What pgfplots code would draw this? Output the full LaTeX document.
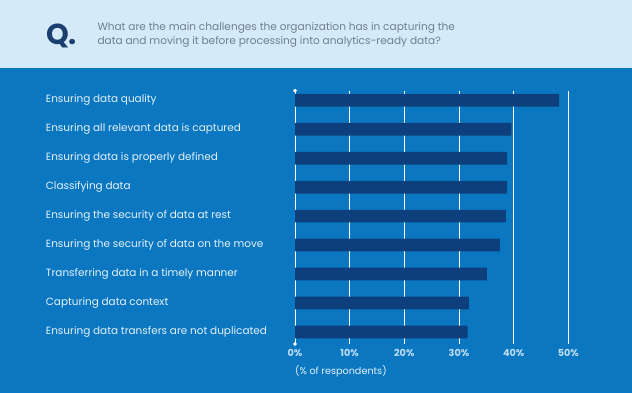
\documentclass[border=0pt]{standalone}
\usepackage{pgfplots}
\pgfplotsset{compat=1.18}
\usepackage{fontspec}
\setmainfont{Poppins}
\definecolor{bg}{HTML}{0A77C0}
\definecolor{bardark}{HTML}{0C3F7C}
\definecolor{band}{HTML}{D4EAF8}
\definecolor{qnavy}{HTML}{1B3F6F}
\definecolor{qtext}{HTML}{6E7F90}
\definecolor{lab}{HTML}{E6F2FB}
\definecolor{ticklab}{HTML}{BFDDF3}
\begin{document}
\begin{tikzpicture}[x=1bp,y=1bp]
\useasboundingbox (0,0) rectangle (632,393);
\fill[bg] (0,0) rectangle (632,393);
\fill[band] (0,325) rectangle (632,393);
\node[anchor=base west, inner sep=0, text=qnavy, font=\bfseries\fontsize{29}{29}\selectfont] at (46,348.5) {Q.};
\node[anchor=base west, inner sep=0, text=qtext, font=\fontsize{10.6}{10.6}\selectfont] at (97.3,362.3) {What are the main challenges the organization has in capturing the};
\node[anchor=base west, inner sep=0, text=qtext, font=\fontsize{10.6}{10.6}\selectfont] at (97.3,348.7) {data and moving it before processing into analytics-ready data?};
\begin{axis}[
  scale only axis,
  width=273.3bp, height=253.3bp,
  at={(295bp,49bp)}, anchor=south west,
  xmin=0, xmax=50,
  ymin=-0.331, ymax=8.415,
  y dir=reverse,
  axis line style={draw=none},
  tick style={draw=none},
  xtick={0,10,20,30,40,50},
  xticklabels={0\%,10\%,20\%,30\%,40\%,50\%},
  xticklabel style={anchor=center, inner sep=0, yshift=-8.7bp, text=ticklab, font=\bfseries\fontsize{9.7}{9.7}\selectfont},
  ytick={0,1,2,3,4,5,6,7,8},
  yticklabels={Ensuring data quality, Ensuring all relevant data is captured, Ensuring data is properly defined, Classifying data, Ensuring the security of data at rest, Ensuring the security of data on the move, Transferring data in a timely manner, Capturing data context, Ensuring data transfers are not duplicated},
  yticklabel style={anchor=west, inner sep=0, xshift=-249.3bp, text=lab, font=\fontsize{10.5}{10.5}\selectfont},
  xmajorgrids, ymajorgrids=false,
  grid style={white, line width=0.9bp},
  clip=false,
]
\addplot[xbar, fill=bardark, draw=none, bar width=12.7bp] coordinates {
 (48.3,0) (39.6,1) (38.8,2) (38.8,3) (38.6,4) (37.5,5) (35.1,6) (31.8,7) (31.6,8)};
\addplot[only marks, mark=*, mark size=1.7bp, white] coordinates {(0,-0.331) (0,8.415)};
\end{axis}
\node[anchor=west, inner sep=0, text=lab, font=\fontsize{9.7}{9.7}\selectfont] at (295,21.3) {(\% of respondents)};
\end{tikzpicture}
\end{document}
